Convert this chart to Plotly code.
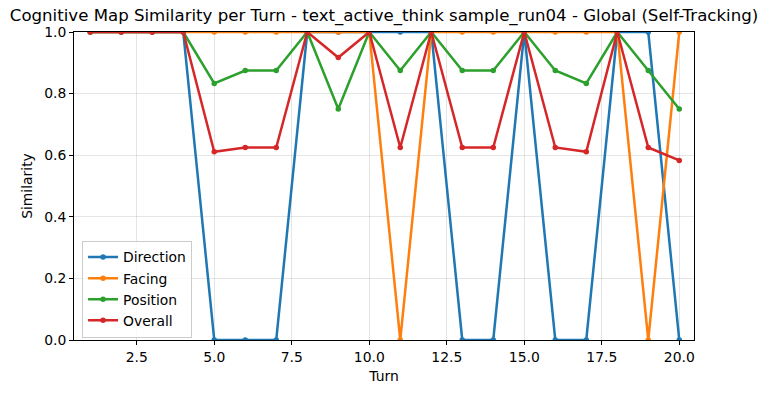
import plotly.graph_objects as go

turns = list(range(1, 21))
direction = [1, 1, 1, 1, 0, 0, 0, 1, 1, 1, 1, 1, 0, 0, 1, 0, 0, 1, 1, 0]
facing = [1, 1, 1, 1, 1, 1, 1, 1, 1, 1, 0, 1, 1, 1, 1, 1, 1, 1, 0, 1]
position = [1, 1, 1, 1, 0.833, 0.875, 0.875, 1, 0.75, 1, 0.875, 1, 0.875, 0.875, 1, 0.875, 0.833, 1, 0.875, 0.75]
overall = [1, 1, 1, 1, 0.611, 0.625, 0.625, 1, 0.917, 1, 0.625, 1, 0.625, 0.625, 1, 0.625, 0.611, 1, 0.625, 0.583]

series = [
    ("Direction", direction, "#1f77b4"),
    ("Facing", facing, "#ff7f0e"),
    ("Position", position, "#2ca02c"),
    ("Overall", overall, "#d62728"),
]

fig = go.Figure()
for name, vals, color in series:
    fig.add_trace(go.Scatter(
        x=turns, y=vals, name=name, mode="lines+markers",
        line=dict(color=color, width=2.5),
        marker=dict(color=color, size=5.5),
    ))

axis_common = dict(
    showline=True, linecolor="black", linewidth=1, mirror=True,
    ticks="outside", ticklen=4, tickcolor="black",
    showgrid=True, gridcolor="rgba(0,0,0,0.1)", gridwidth=1,
    zeroline=False, tickfont=dict(size=13.9, color="black"),
)

fig.update_layout(
    width=768, height=393,
    margin=dict(l=74, r=74, t=32, b=53),
    paper_bgcolor="white", plot_bgcolor="white",
    font=dict(family="DejaVu Sans", color="black"),
    title=dict(
        text="Cognitive Map Similarity per Turn - text_active_think sample_run04 - Global (Self-Tracking)",
        x=0.5, xanchor="center", y=0.962, yanchor="middle",
        font=dict(size=16.6, color="black"),
    ),
    xaxis=dict(
        range=[0.476, 20.475], tick0=0, dtick=2.5, tickformat=".1f",
        title=dict(text="Turn", font=dict(size=13.9), standoff=7),
        **axis_common,
    ),
    yaxis=dict(
        range=[0, 1], tick0=0, dtick=0.2, tickformat=".1f",
        title=dict(text="Similarity", font=dict(size=13.9), standoff=8),
        **axis_common,
    ),
    legend=dict(
        x=0.013, y=0.008, xanchor="left", yanchor="bottom",
        bgcolor="rgba(255,255,255,0.8)", bordercolor="#cccccc", borderwidth=1,
        font=dict(size=13.9, color="black"), tracegroupgap=0,
    ),
)

fig.write_html("out.html", config={"displayModeBar": False},
               post_script="document.body.style.margin='0';")
